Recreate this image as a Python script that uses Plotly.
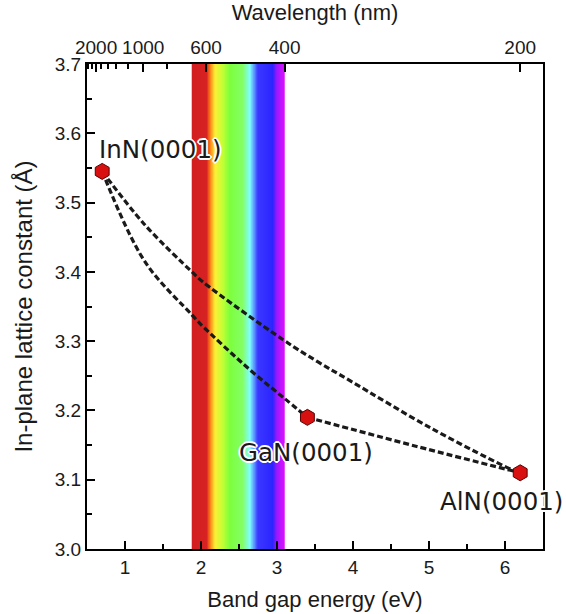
import numpy as np
import plotly.graph_objects as go

# ---- data ----
materials = ["InN(0001)", "GaN(0001)", "AlN(0001)"]
band_gap = [0.70, 3.40, 6.20]          # eV
lattice = [3.545, 3.19, 3.11]          # Angstrom

# dashed alloy curves
inaln_e = [0.70, 1.26, 1.88, 2.03, 3.08, 3.54, 3.96, 5.05, 6.10, 6.20]
inaln_a = [3.545, 3.468, 3.400, 3.385, 3.302, 3.270, 3.243, 3.173, 3.114, 3.110]
ingan_e = [0.70, 1.26, 1.88, 1.99, 2.65, 3.08, 3.40]
ingan_a = [3.545, 3.415, 3.338, 3.325, 3.258, 3.219, 3.190]
algan_e = [3.40, 4.84, 6.20]
algan_a = [3.190, 3.148, 3.110]

# label positions
label_e = [1.47, 3.38, 5.95]
label_a = [3.576, 3.140, 3.069]

# top axis wavelengths (nm)
wl_major = [2000, 1000, 600, 400, 200]
wl_minor = [2400, 2200, 1800, 1600, 1400, 1200, 800]

# visible spectrum band (eV) and colours
spec_e = [1.878, 2.075, 2.118, 2.184, 2.289, 2.38, 2.55, 2.645, 2.75, 2.947, 3.0, 3.105]
spec_c = ["#d21e1e", "#d62222", "#ff7a14", "#fff035", "#c0ff35", "#7cff3c",
          "#84ff66", "#80ffff", "#3a38ff", "#2c24ff", "#9a18ff", "#e010ff"]

fig = go.Figure()

# spectrum as heatmap
n = 240
edges = np.linspace(spec_e[0], spec_e[-1], n + 1)
centers = (edges[:-1] + edges[1:]) / 2
span = spec_e[-1] - spec_e[0]
cscale = [[(e - spec_e[0]) / span, c] for e, c in zip(spec_e, spec_c)]
fig.add_trace(go.Heatmap(x=edges, y=[3.0, 3.7], z=[centers.tolist()],
                         colorscale=cscale, zmin=spec_e[0], zmax=spec_e[-1],
                         showscale=False, hoverinfo="skip"))

dash_line = dict(color="#1a1a1a", width=3.2, dash="6px,3px", shape="spline")
for ex, ay in [(inaln_e, inaln_a), (ingan_e, ingan_a), (algan_e, algan_a)]:
    fig.add_trace(go.Scatter(x=ex, y=ay, mode="lines", line=dash_line,
                             showlegend=False, hoverinfo="skip"))

fig.add_trace(go.Scatter(x=band_gap, y=lattice, mode="markers",
                         marker=dict(symbol="hexagon", size=16, color="#d81010",
                                     line=dict(color="#5a0000", width=1)),
                         showlegend=False))

# invisible trace to activate the top axis
fig.add_trace(go.Scatter(x=[band_gap[0]], y=[lattice[0]], xaxis="x2",
                         mode="markers", marker=dict(opacity=0),
                         showlegend=False, hoverinfo="skip"))

halo = ("-1px -1px 0 white, 1px -1px 0 white, -1px 1px 0 white, 1px 1px 0 white, "
        "0 2px 0 white, 0 -2px 0 white, 2px 0 0 white, -2px 0 0 white")
for t, xe, ya in zip(materials, label_e, label_a):
    fig.add_annotation(x=xe, y=ya, text=t, showarrow=False,
                       font=dict(family="DejaVu Sans", size=24.5, color="#1a1a1a",
                                 shadow=halo))

axis_font = dict(family="Liberation Sans, Arial", size=19, color="#1a1a1a")
title_font = dict(family="Liberation Sans, Arial", size=22, color="#1a1a1a")
ytitle_font = dict(family="Liberation Sans, Arial", size=24, color="#1a1a1a")

fig.update_layout(
    width=566, height=614,
    margin=dict(l=87, r=23, t=64, b=65),
    paper_bgcolor="white", plot_bgcolor="white",
    xaxis=dict(range=[0.5, 6.5], tickvals=[1, 2, 3, 4, 5, 6], automargin=False,
               ticks="inside", ticklen=8, tickwidth=1.5, tickcolor="black",
               minor=dict(tickvals=[1.5, 2.5, 3.5, 4.5, 5.5], ticks="inside",
                          ticklen=5, tickwidth=1.5, tickcolor="black"),
               showline=True, linecolor="black", linewidth=2, mirror=False,
               showgrid=False, zeroline=False, tickfont=axis_font,
               title=dict(text="Band gap energy (eV)", font=title_font)),
    xaxis2=dict(overlaying="x", side="top", range=[0.5, 6.5], automargin=False,
                tickvals=[1240 / w for w in wl_major],
                ticktext=[str(w) for w in wl_major],
                ticks="inside", ticklen=8, tickwidth=1.5, tickcolor="black",
                minor=dict(tickvals=[1240 / w for w in wl_minor], ticks="inside",
                           ticklen=5, tickwidth=1.5, tickcolor="black"),
                showline=True, linecolor="black", linewidth=2,
                showgrid=False, zeroline=False, tickfont=axis_font,
                title=dict(text="Wavelength (nm)", font=title_font)),
    yaxis=dict(range=[3.0, 3.7], tickvals=[3.0, 3.1, 3.2, 3.3, 3.4, 3.5, 3.6, 3.7],
               ticktext=["3.0", "3.1", "3.2", "3.3", "3.4", "3.5", "3.6", "3.7"],
               automargin=False,
               ticks="inside", ticklen=8, tickwidth=1.5, tickcolor="black",
               minor=dict(tickvals=[3.05, 3.15, 3.25, 3.35, 3.45, 3.55, 3.65],
                          ticks="inside", ticklen=5, tickwidth=1.5, tickcolor="black"),
               showline=True, linecolor="black", linewidth=2, mirror=True,
               showgrid=False, zeroline=False, tickfont=axis_font,
               title=dict(text="In-plane lattice constant (Å)", font=ytitle_font)),
)

fig.write_html("out.html", config={"displayModeBar": False},
               post_script="document.body.style.margin='0';document.body.style.padding='0';")
